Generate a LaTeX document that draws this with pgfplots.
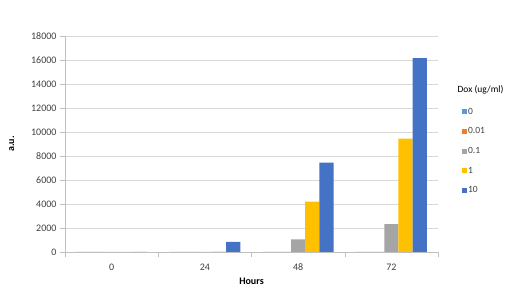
\documentclass[border=0pt]{standalone}
\usepackage{pgfplots}
\pgfplotsset{compat=1.18}
\usepackage{fontspec}
\setmainfont{Carlito}
\definecolor{c0}{HTML}{5B9BD5}
\definecolor{c1}{HTML}{ED7D31}
\definecolor{c2}{HTML}{A5A5A5}
\definecolor{c3}{HTML}{FFC000}
\definecolor{c4}{HTML}{4472C4}
\definecolor{gridc}{HTML}{D9D9D9}
\definecolor{axc}{HTML}{BFBFBF}
\definecolor{txt}{HTML}{404040}
\begin{document}
\begin{tikzpicture}[x=1pt,y=1pt]
\useasboundingbox (0,0) rectangle (514,288);
\begin{axis}[
  at={(65pt,36pt)}, anchor=south west,
  width=373pt, height=216pt, scale only axis,
  ybar=0pt, bar width=14.2pt,
  xmin=-0.5, xmax=3.5,
  ymin=0, ymax=18000,
  xtick={0,1,2,3}, xticklabels={0,24,48,72},
  major x tick style={draw=none},
  minor xtick={-0.5,0.5,1.5,2.5,3.5},
  minor tick length=5pt,
  ytick={0,2000,...,18000},
  major tick length=5pt,
  tick align=outside,
  axis x line*=bottom, axis y line*=left,
  axis line style={axc,-},
  tick style={axc},
  ymajorgrids, grid style={gridc},
  scaled y ticks=false,
  yticklabel style={/pgf/number format/1000 sep={}, /pgf/number format/assume math mode=true, font=\fontsize{10}{12}\selectfont, text=txt},
  xticklabel style={/pgf/number format/assume math mode=true, font=\fontsize{10}{12}\selectfont, text=txt, yshift=-3pt},
  xlabel={\textbf{Hours}}, xlabel style={font=\fontsize{10}{12}\selectfont, text=black, yshift=-1pt},
  ylabel={\textbf{a.u.}}, ylabel style={font=\fontsize{10}{12}\selectfont, text=black, yshift=10pt},
  legend style={at={(1.064,0.672)}, anchor=north west, draw=none, fill=none,
    font=\fontsize{9.5}{11}\selectfont, text=txt, row sep=10pt, inner sep=0pt,
    nodes={inner sep=1pt, anchor=west}},
  legend cell align=left,
  legend image code/.code={\fill[#1] (0pt,-2.5pt) rectangle (5pt,2.5pt);},
  clip=false,
]
\addplot[fill=c0, draw=none] coordinates {(0,0) (1,0) (2,0) (3,0)};
\addplot[fill=c1, draw=none] coordinates {(0,0) (1,0) (2,20) (3,0)};
\addplot[fill=c2, draw=none] coordinates {(0,0) (1,0) (2,1050) (3,2330)};
\addplot[fill=c3, draw=none] coordinates {(0,0) (1,40) (2,4200) (3,9450)};
\addplot[fill=c4, draw=none] coordinates {(0,0) (1,850) (2,7450) (3,16150)};
\legend{0,0.01,0.1,1,10}
\node[anchor=west, font=\fontsize{9.5}{11}\selectfont, text=black, inner sep=0pt] at (rel axis cs:1.052,0.753) {Dox (ug/ml)};
\end{axis}
\end{tikzpicture}
\end{document}
